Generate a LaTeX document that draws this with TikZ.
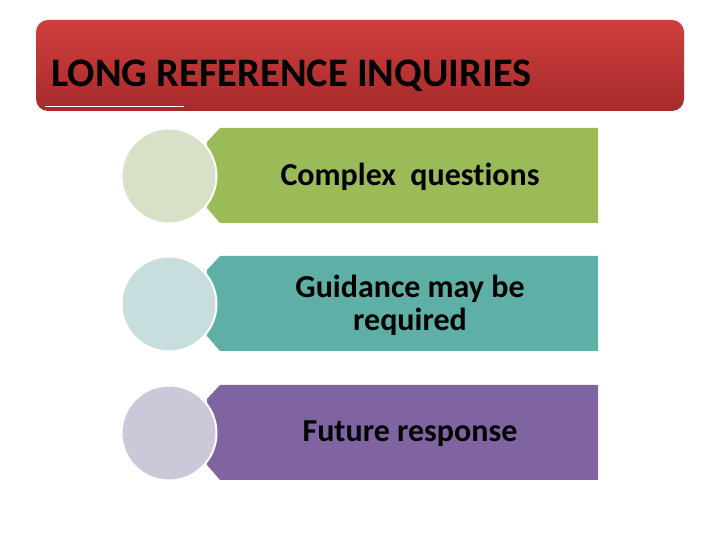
\documentclass[tikz,border=0pt]{standalone}
\usepackage{fontspec}
\setmainfont[Ligatures=NoCommon]{Carlito}
\definecolor{titletop}{HTML}{D13F3D}
\definecolor{titlebot}{HTML}{A52B2B}
\definecolor{boxgreen}{HTML}{9BBB59}
\definecolor{boxteal}{HTML}{5EB0A6}
\definecolor{boxpurple}{HTML}{8064A2}
\definecolor{dotgreen}{HTML}{D7E1C7}
\definecolor{dotteal}{HTML}{C8DDDD}
\definecolor{dotpurple}{HTML}{CDC8D9}
\tikzset{
  dot/.style={circle, minimum size=95pt, inner sep=0pt, draw=white, line width=2pt},
  lbl/.style={align=center, font=\fontsize{32}{33}\selectfont\bfseries, text=black}
}
\begin{document}
\begin{tikzpicture}[x=1pt, y=1pt]
\useasboundingbox (0,0) rectangle (720,540);
\shade[top color=titletop, bottom color=titlebot, rounded corners=12pt] (36,520) rectangle (684,429);
\draw[white, line width=1pt] (45,433)--(184,433);
\node[anchor=base west, inner sep=0pt, font=\fontsize{40.5}{45}\selectfont\bfseries] (title) at (51,453) {LONG REFERENCE INQUIRIES};
\foreach \i/\y/\fc/\cc/\txt in {1/364/boxgreen/dotgreen/{Complex\ \ questions},
    2/236/boxteal/dotteal/{Guidance may be\\required},
    3/107/boxpurple/dotpurple/{Future response}}
{
    \fill[\fc] (220,\y+48)--(598,\y+48)--(598,\y-47)--(220,\y-47)--(207,\y-32)--(207,\y+34)--cycle;
    \node[dot, fill=\cc] (dot\i) at (169,\y) {};
    \node[lbl] (lbl\i) at (410,\y-1) {\txt};
}
\end{tikzpicture}
\end{document}
